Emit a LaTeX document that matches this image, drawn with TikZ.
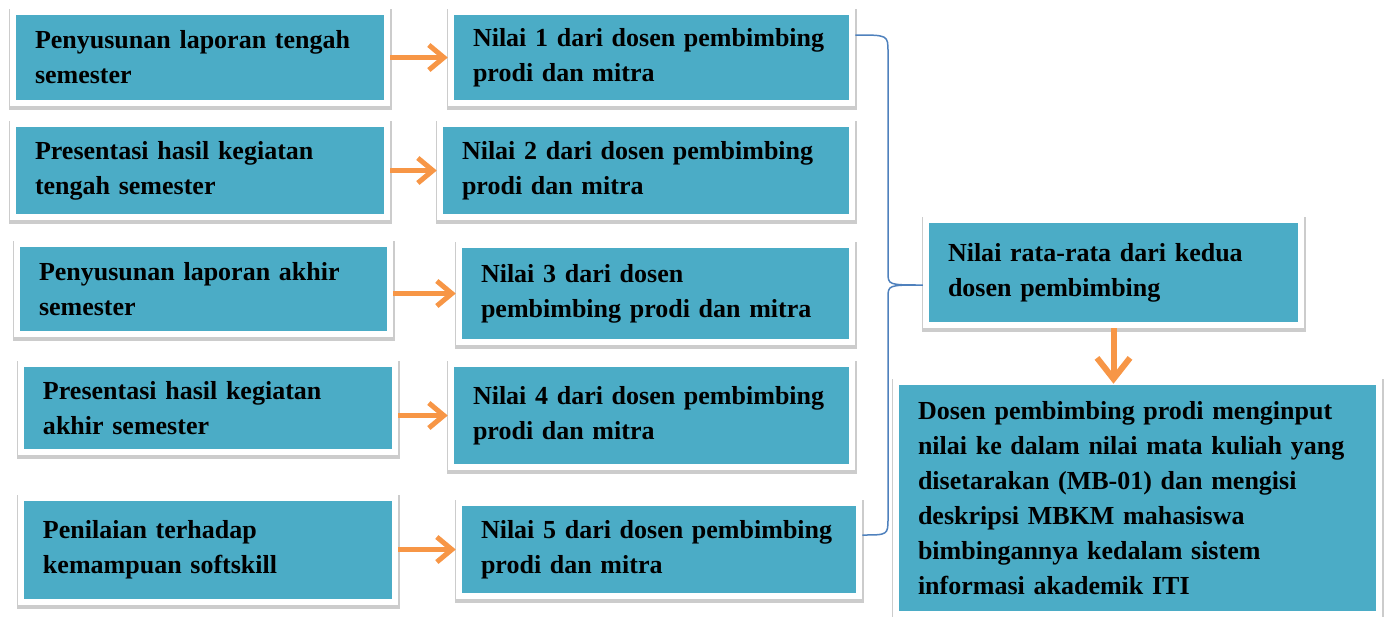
\documentclass[tikz,border=0pt]{standalone}
\usepackage{fontspec}
\setmainfont{Liberation Serif}
\usetikzlibrary{arrows.meta,shadows}

\definecolor{boxteal}{RGB}{75,172,198}
\definecolor{arroworange}{RGB}{247,150,70}
\definecolor{braceblue}{RGB}{79,129,189}

\tikzset{
  box/.style={fill=boxteal, draw=white, line width=0.13cm, align=left,
    inner xsep=0.44cm, inner ysep=0cm,
    font=\fontsize{14.8}{20}\selectfont\bfseries,
    execute at begin node={\hyphenpenalty=10000},
    drop shadow={opacity=0.2, draw=black, line width=0.19cm,
      shadow xshift=0.01cm, shadow yshift=-0.04cm}},
  arr/.style={draw=arroworange, line width=0.1cm,
    -{Straight Barb[length=0.3cm, width=0.5cm]}},
  arrdown/.style={draw=arroworange, line width=0.12cm, shorten >=-0.1cm,
    -{Straight Barb[length=0.42cm, width=0.66cm]}},
}

\begin{document}
\begin{tikzpicture}
\useasboundingbox (0,0) rectangle (27.7,-12.32);

\node(l1) at (4.00,-1.15) [box, text width=6.60cm, minimum height=1.82cm] {Penyusunan laporan tengah\\semester};
\node(l2) at (4.00,-3.41) [box, text width=6.60cm, minimum height=1.86cm] {Presentasi hasil kegiatan\\tengah semester};
\node(l3) at (4.07,-5.78) [box, text width=6.58cm, minimum height=1.80cm] {Penyusunan laporan akhir\\semester};
\node(l4) at (4.16,-8.16) [box, text width=6.60cm, minimum height=1.76cm] {Presentasi hasil kegiatan\\akhir semester};
\node(l5) at (4.16,-11.00) [box, text width=6.60cm, minimum height=2.08cm] {Penilaian terhadap\\kemampuan softskill};

\node(m1) at (13.03,-1.15) [box, text width=7.14cm, minimum height=1.82cm] {Nilai 1 dari dosen pembimbing\\prodi dan mitra};
\node(m2) at (12.92,-3.41) [box, text width=7.36cm, minimum height=1.86cm] {Nilai 2 dari dosen pembimbing\\prodi dan mitra};
\node(m3) at (13.11,-5.87) [box, text width=6.98cm, minimum height=1.94cm] {Nilai 3 dari dosen\\pembimbing prodi dan mitra};
\node(m4) at (13.03,-8.31) [box, text width=7.14cm, minimum height=2.06cm] {Nilai 4 dari dosen pembimbing\\prodi dan mitra};
\node(m5) at (13.18,-10.99) [box, text width=7.12cm, minimum height=1.86cm] {Nilai 5 dari dosen pembimbing\\prodi dan mitra};

\draw[arr] (m1.west -| l1.east) to (m1.west);
\draw[arr] (m2.west -| l2.east) to (m2.west);
\draw[arr] (m3.west -| l3.east) to (m3.west);
\draw[arr] (m4.west -| l4.east) to (m4.west);
\draw[arr] (m5.west -| l5.east) to (m5.west);

\node(r1) at (22.27,-5.45) [box, text width=6.62cm, minimum height=2.10cm] {Nilai rata-rata dari kedua\\dosen pembimbing};
\node(r2) at (22.75,-9.96) [box, text width=8.78cm, minimum height=4.64cm] {Dosen pembimbing prodi menginput\\nilai ke dalam nilai mata kuliah yang\\disetarakan (MB-01) dan mengisi\\deskripsi MBKM mahasiswa\\bimbingannya kedalam sistem\\informasi akademik ITI};

\coordinate(tip) at ([yshift=-0.25cm]r1.west);
\draw[braceblue, line width=0.03cm] ([yshift=0.45cm]m1.east) .. controls (17.76,-0.70) .. (17.76,-1.04)
  -- (17.76,-5.44) .. controls (17.76,-5.70) .. (tip)
  .. controls (17.76,-5.70) .. (17.76,-5.96)
  -- (17.76,-10.36) .. controls (17.76,-10.70) .. ([yshift=0.29cm]m5.east);

\draw[arrdown] (r1.south) to (r1.south |- r2.north);

\end{tikzpicture}
\end{document}
